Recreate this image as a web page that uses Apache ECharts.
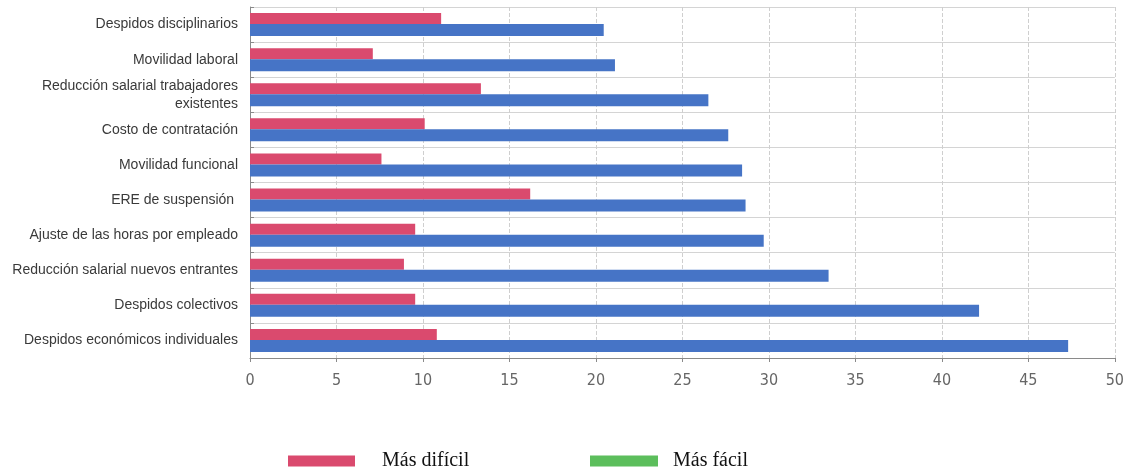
<!DOCTYPE html>
<html>
<head>
<meta charset="utf-8">
<script src="https://cdn.jsdelivr.net/npm/echarts@6/dist/echarts.min.js"></script>
<style>
    html, body { margin: 0; padding: 0; background: #fff; }
    #chart { width: 1127px; height: 470px; }
</style>
</head>
<body>
<div id="chart"></div>
<script>
// categories, top to bottom
const categories = [
    'Despidos disciplinarios',
    'Movilidad laboral',
    'Reducción salarial trabajadores\nexistentes',
    'Costo de contratación',
    'Movilidad funcional',
    'ERE de suspensión ',
    'Ajuste de las horas por empleado',
    'Reducción salarial nuevos entrantes',
    'Despidos colectivos',
    'Despidos económicos individuales'
];
const masDificil = [11.05, 7.1, 13.35, 10.1, 7.6, 16.2, 9.55, 8.9, 9.55, 10.8];
const masFacil = [20.45, 21.1, 26.5, 27.65, 28.45, 28.65, 29.7, 33.45, 42.15, 47.3];
const xTicks = [0, 5, 10, 15, 20, 25, 30, 35, 40, 45, 50];

const pink = '#DA4A6E';
const blue = '#4674C6';
const green = '#5CBE5C';

function legendText(gap) {
    return {
        fontFamily: '"Liberation Serif", "DejaVu Serif", serif',
        fontSize: 20,
        color: '#111',
        padding: [0, 0, 0, gap]
    };
}

const chart = echarts.init(document.getElementById('chart'));
const option = {
    animation: false,
    grid: {
        left: 250,
        right: 12,
        top: 7,
        bottom: 112
    },
    // two legends so each swatch sits where the original puts it
    legend: [
        {
            left: 283,
            top: 446,
            itemWidth: 67,
            itemHeight: 11,
            icon: 'rect',
            textStyle: legendText(22),
            data: [{ name: 'Más difícil', itemStyle: { color: pink } }]
        },
        {
            left: 585,
            top: 446,
            itemWidth: 68,
            itemHeight: 11,
            icon: 'rect',
            textStyle: legendText(10),
            data: [{ name: 'Más fácil', itemStyle: { color: green } }]
        }
    ],
    xAxis: {
        type: 'value',
        min: xTicks[0],
        max: xTicks[xTicks.length - 1],
        interval: 5,
        axisLine: { show: true, lineStyle: { color: '#8a8a8a' } },
        axisTick: { show: true, length: 4, lineStyle: { color: '#8a8a8a' } },
        axisLabel: {
            margin: 15,
            fontSize: 16,
            color: '#666',
            fontFamily: '"Liberation Sans Narrow", "DejaVu Sans Condensed", sans-serif'
        },
        splitLine: { show: true, lineStyle: { color: '#cfcfcf', type: 'dashed' } }
    },
    yAxis: {
        type: 'category',
        inverse: true,
        data: categories,
        axisLine: { show: true, lineStyle: { color: '#8a8a8a' } },
        axisTick: { show: true, inside: true, length: 4, lineStyle: { color: '#8a8a8a' } },
        axisLabel: {
            margin: 12,
            fontSize: 14,
            lineHeight: 18,
            color: '#3a3a3a',
            fontFamily: '"Liberation Sans", Arial, sans-serif'
        },
        splitLine: { show: true, lineStyle: { color: '#d4d4d4' } }
    },
    series: [
        {
            name: 'Más difícil',
            type: 'bar',
            data: masDificil,
            barWidth: 11,
            barGap: '0%',
            itemStyle: { color: pink }
        },
        {
            name: 'Más fácil',
            type: 'bar',
            data: masFacil,
            barWidth: 12,
            barGap: '0%',
            itemStyle: { color: blue }
        }
    ]
};
chart.setOption(option);
</script>
</body>
</html>
